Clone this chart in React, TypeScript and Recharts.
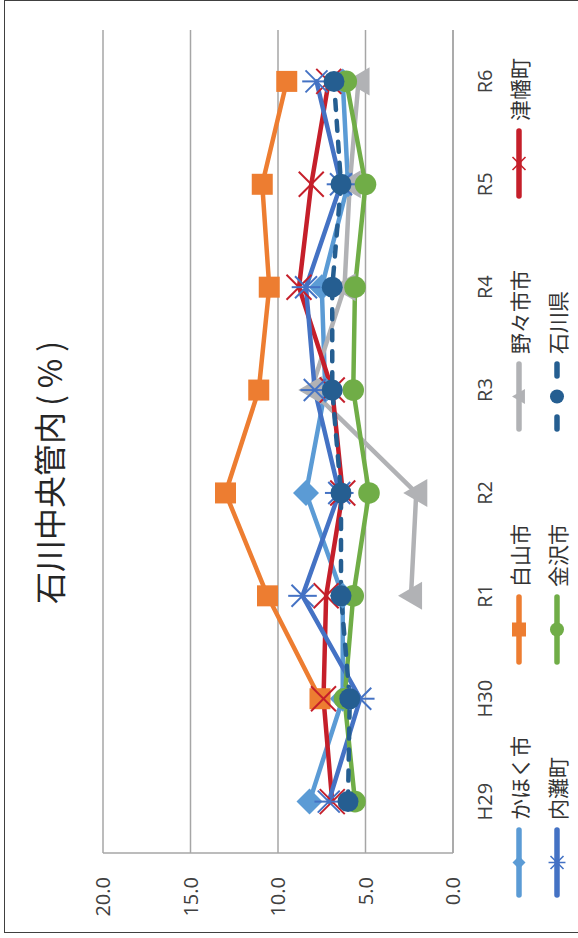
import React from "react"
import { LineChart, Line, XAxis, YAxis, CartesianGrid } from "recharts"

// 年度
const years = ["H29", "H30", "R1", "R2", "R3", "R4", "R5", "R6"]

// 各市町の値 (%)
const kahoku = [8.2, 6.3, 6.3, 8.4, 7.3, 7.5, 6.0, 6.3]
const hakusan = [null, 7.6, 10.6, 13.0, 11.1, 10.5, 10.9, 9.5]
const nonoichi = [null, null, 2.4, 2.1, 8.1, 6.2, 5.9, 5.4]
const tsubata = [6.9, 7.4, 7.25, 6.3, 6.9, 8.8, 8.1, 7.1]
const uchinada = [7.1, 5.3, 8.6, 6.5, 7.9, 8.4, 6.4, 7.8]
const kanazawa = [5.6, 6.2, 5.7, 4.8, 5.7, 5.6, 5.0, 6.1]
const ishikawa = [6.0, 5.9, 6.4, 6.4, 6.9, 6.9, 6.4, 6.8]

const valueTicks = [0, 5, 10, 15, 20]

const W = 938
const H = 578
const JP = '"Noto Sans CJK JP", "Noto Sans", sans-serif'
const NUM = '"Open Sans", "Noto Sans", sans-serif'

type MarkerKind = "diamond" | "square" | "triangle" | "x" | "star" | "circle"

function Marker({ kind, cx, cy, s, color }: { kind: MarkerKind; cx: number; cy: number; s: number; color: string }) {
  if (kind === "diamond") {
    return <polygon points={`${cx},${cy - s} ${cx + s},${cy} ${cx},${cy + s} ${cx - s},${cy}`} fill={color} />
  }
  if (kind === "square") {
    return <rect x={cx - s} y={cy - s} width={s * 2} height={s * 2} fill={color} />
  }
  if (kind === "triangle") {
    return <polygon points={`${cx},${cy - s} ${cx + s * 1.08},${cy + s * 0.85} ${cx - s * 1.08},${cy + s * 0.85}`} fill={color} />
  }
  if (kind === "x" || kind === "star") {
    const sw = s > 9 ? 2 : 1.6
    return (
      <g stroke={color} strokeWidth={sw}>
        <line x1={cx - s} y1={cy - s} x2={cx + s} y2={cy + s} />
        <line x1={cx - s} y1={cy + s} x2={cx + s} y2={cy - s} />
        {kind === "star" && <line x1={cx} y1={cy - s * 1.3} x2={cx} y2={cy + s * 1.3} />}
      </g>
    )
  }
  return <circle cx={cx} cy={cy} r={s} fill={color} />
}

const series: { name: string; key: string; color: string; kind: MarkerKind; size: number; dash?: string }[] = [
  { name: "かほく市", key: "kahoku", color: "#5B9BD5", kind: "diamond", size: 13 },
  { name: "白山市", key: "hakusan", color: "#ED7D31", kind: "square", size: 10.5 },
  { name: "野々市市", key: "nonoichi", color: "#B1B2B5", kind: "triangle", size: 13 },
  { name: "津幡町", key: "tsubata", color: "#C51F2A", kind: "x", size: 12.5 },
  { name: "内灘町", key: "uchinada", color: "#4472C4", kind: "star", size: 11 },
  { name: "金沢市", key: "kanazawa", color: "#70AD47", kind: "circle", size: 10.8 },
  { name: "石川県", key: "ishikawa", color: "#255E91", kind: "circle", size: 10.5, dash: "10 11" },
]

const data = years.map((y, i) => ({
  year: y,
  kahoku: kahoku[i],
  hakusan: hakusan[i],
  nonoichi: nonoichi[i],
  tsubata: tsubata[i],
  uchinada: uchinada[i],
  kanazawa: kanazawa[i],
  ishikawa: ishikawa[i],
}))

function legendSize(kind: MarkerKind) {
  if (kind === "square") return 7
  if (kind === "circle") return 7
  if (kind === "triangle") return 7
  return 6.5
}

function ChartLegend() {
  return (
    <div
      style={{
        position: "absolute",
        left: 40,
        top: 500,
        width: 940,
        display: "flex",
        flexWrap: "wrap",
      }}
    >
      {series.map((s) => (
        <div key={s.key} style={{ width: 233, height: 38, display: "flex", alignItems: "center" }}>
          <svg width={71} height={24} style={{ display: "block" }}>
            <line
              x1={3}
              y1={12}
              x2={68}
              y2={12}
              stroke={s.color}
              strokeWidth={5.5}
              strokeLinecap="round"
              strokeDasharray={s.dash ? "12 41" : undefined}
            />
            <Marker kind={s.kind} cx={35.5} cy={12} s={legendSize(s.kind)} color={s.color} />
          </svg>
          <span style={{ marginLeft: 7, fontFamily: JP, fontSize: 21, color: "#333", lineHeight: "24px" }}>
            {s.name}
          </span>
        </div>
      ))}
    </div>
  )
}

export default function App() {
  return (
    <div style={{ position: "fixed", left: 0, top: 0, width: 578, height: 938, overflow: "hidden", background: "#fff" }}>
      <div
        style={{
          position: "absolute",
          left: 0,
          top: 0,
          width: W,
          height: H,
          transformOrigin: "0 0",
          transform: `translate(0px, ${W}px) rotate(-90deg)`,
        }}
      >
        <div
          style={{
            position: "absolute",
            left: 5,
            top: 4,
            width: 931,
            height: 640,
            border: "1.5px solid #404040",
          }}
        />
        <div
          style={{
            position: "absolute",
            left: 0,
            top: 31,
            width: W,
            textAlign: "center",
            fontFamily: JP,
            fontSize: 32,
            lineHeight: "34px",
            color: "#262626",
          }}
        >
          石川中央管内<span style={{ letterSpacing: 7, marginLeft: 6 }}>(%)</span>
        </div>
        <LineChart width={W} height={H} data={data} margin={{ top: 103, right: 30, bottom: 95, left: 25 }}>
          <CartesianGrid vertical={false} stroke="#A6A6A6" strokeWidth={1.5} />
          <XAxis
            dataKey="year"
            scale="point"
            padding={{ left: 51.4, right: 51.4 }}
            height={30}
            interval={0}
            tickLine={false}
            tickSize={0}
            tickMargin={25}
            axisLine={{ stroke: "#A6A6A6", strokeWidth: 1.5 }}
            tick={{ fontSize: 20, fill: "#404040", fontFamily: NUM }}
          />
          <YAxis
            domain={[0, 20]}
            ticks={valueTicks}
            width={60}
            tickLine={false}
            tickSize={0}
            tickMargin={24}
            axisLine={{ stroke: "#A6A6A6", strokeWidth: 1.5 }}
            tick={{ fontSize: 20, fill: "#404040", fontFamily: NUM }}
            tickFormatter={(v: number) => v.toFixed(1)}
          />
          {series.map((s) => (
            <Line
              key={s.key}
              dataKey={s.key}
              name={s.name}
              stroke={s.color}
              strokeWidth={4.5}
              strokeDasharray={s.dash}
              strokeLinecap="round"
              strokeLinejoin="round"
              isAnimationActive={false}
              connectNulls={false}
              activeDot={false}
              dot={(p: any) => {
                if (p.cx == null || p.cy == null || p.value == null) return <g key={p.key ?? `${s.key}-${p.index}`} />
                return (
                  <g key={p.key ?? `${s.key}-${p.index}`}>
                    <Marker kind={s.kind} cx={p.cx} cy={p.cy} s={s.size} color={s.color} />
                  </g>
                )
              }}
            />
          ))}
        </LineChart>
        <ChartLegend />
      </div>
    </div>
  )
}
